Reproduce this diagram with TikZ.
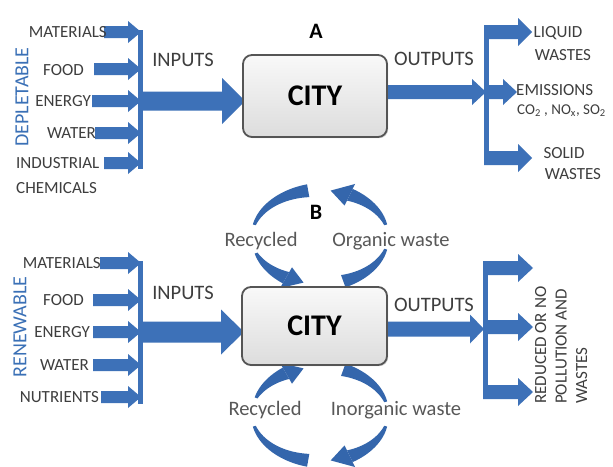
\documentclass[tikz,border=0pt]{standalone}
\usepackage{fontspec}
\setmainfont{Carlito}
\usetikzlibrary{shadows}

\definecolor{flowblue}{RGB}{61,113,184}
\definecolor{loopblue}{RGB}{52,102,172}
\definecolor{labelgrey}{RGB}{62,62,62}
\definecolor{loopgrey}{RGB}{88,88,88}
\definecolor{sideblue}{RGB}{58,112,182}
\definecolor{boxedge}{RGB}{85,85,85}

% straight block arrow: x start, x tip, y centre, body height, head height, head length
\newcommand{\blockarrow}[6]{%
  \fill[flowblue] (#1,{#3-#4/2}) -- ({#2-#6},{#3-#4/2}) -- ({#2-#6},{#3-#5/2})
    -- (#2,#3) -- ({#2-#6},{#3+#5/2}) -- ({#2-#6},{#3+#4/2}) -- (#1,{#3+#4/2}) -- cycle;}

% tapered piece of an elliptic loop: cx, cy, rx, ry, from angle, to angle, width at from, width at to
\newcommand{\looppiece}[8]{%
  \fill[loopblue]
    plot[domain=#5:#6, samples=40]
      ({#1+(#3+(#7+(#8-(#7))*(\x-(#5))/(#6-(#5)))/2)*cos(\x)},
       {#2-(#4+(#7+(#8-(#7))*(\x-(#5))/(#6-(#5)))/2)*sin(\x)})
    -- plot[domain=#6:#5, samples=40]
      ({#1+(#3-(#7+(#8-(#7))*(\x-(#5))/(#6-(#5)))/2)*cos(\x)},
       {#2-(#4-(#7+(#8-(#7))*(\x-(#5))/(#6-(#5)))/2)*sin(\x)})
    -- cycle;}

% arrow head on an elliptic loop: cx, cy, rx, ry, base angle, tip angle, half width
\newcommand{\loophead}[7]{%
  \fill[loopblue] ({#1+(#3+#7)*cos(#5)},{#2-(#4+#7)*sin(#5)})
    -- ({#1+#3*cos(#6)},{#2-#4*sin(#6)})
    -- ({#1+(#3-#7)*cos(#5)},{#2-(#4-#7)*sin(#5)}) -- cycle;}

\begin{document}
\begin{tikzpicture}[x=1pt,y=-1pt,
  inlab/.style={text=labelgrey, inner sep=0pt, font=\fontsize{17}{19}\selectfont},
  flowlab/.style={text=labelgrey, inner sep=0pt, font=\fontsize{20.5}{22}\selectfont},
  looplab/.style={text=loopgrey, inner sep=0pt, font=\fontsize{20.5}{22}\selectfont},
  sidelab/.style={text=sideblue, inner sep=0pt, rotate=90, font=\fontsize{20}{22}\selectfont},
  titlelab/.style={text=black, inner sep=0pt, font=\fontsize{22}{24}\selectfont\bfseries},
  citybox/.style={draw=boxedge, line width=1.8pt, rounded corners=9pt,
    top color=gray!5, bottom color=gray!27, text=black,
    font=\fontsize{30}{32}\selectfont\bfseries,
    drop shadow={opacity=0.35, shadow xshift=1.2pt, shadow yshift=-1.2pt}}
]
\useasboundingbox[fill=white] (0,0) rectangle (613,466);

% ================= part A : depletable inputs =================
\blockarrow{104}{141}{32}{12}{22}{13}
\blockarrow{94}{141}{69}{12}{22}{13}
\blockarrow{92}{141}{101}{12}{22}{13}
\blockarrow{95}{141}{133}{12}{22}{13}
\blockarrow{104}{141}{163}{12}{22}{13}
\fill[flowblue] (138,30) rectangle (143,169);
\blockarrow{143}{245}{101}{19}{46}{23}

% outputs of A
\blockarrow{387}{486}{92}{14}{26}{14}
\fill[flowblue] (484,25) rectangle (489,165);
\blockarrow{484}{532}{32}{14}{28}{14}
\blockarrow{489}{517}{92}{14}{26}{14}
\blockarrow{484}{532}{158}{14}{28}{14}

\node[citybox, minimum width=144pt, minimum height=82pt] (cityA) at (315,96) {CITY};
\node[titlelab] (titleA) at (316,31) {A};

\node[inlab, anchor=east] (matA) at (107,32) {MATERIALS};
\node[inlab, anchor=east] (foodA) at (84,70) {FOOD};
\node[inlab, anchor=east] (enerA) at (91,101) {ENERGY};
\node[inlab, anchor=east] (watA) at (96,133) {WATER};
\node[inlab, anchor=west] (indA) at (16,163) {INDUSTRIAL};
\node[inlab, anchor=west] (chemA) at (16,188) {CHEMICALS};
\node[sidelab] (deplA) at (22,97) {DEPLETABLE};
\node[flowlab] (inA) at (183,60) {INPUTS};
\node[flowlab] (outA) at (434,59) {OUTPUTS};

\node[inlab] (liqA) at (558,33) {LIQUID};
\node[inlab] (liqwA) at (563,55) {WASTES};
\node[inlab, anchor=west] (emiA) at (516,90) {EMISSIONS};
\node[inlab, anchor=west, font=\fontsize{15}{17}\selectfont] (gasA) at (517,111)
      {CO\textsubscript{2} , NO\textsubscript{x}, SO\textsubscript{2}};
\node[inlab] (solA) at (564,153) {SOLID};
\node[inlab] (solwA) at (573,174) {WASTES};

% ================= part B : renewable inputs =================
\blockarrow{100}{141}{263}{12}{22}{13}
\blockarrow{93}{141}{300}{12}{22}{13}
\blockarrow{93}{141}{332}{12}{22}{13}
\blockarrow{93}{141}{365}{12}{22}{13}
\blockarrow{101}{141}{397}{12}{22}{13}
\fill[flowblue] (138,261) rectangle (143,404);
\blockarrow{143}{244}{332}{21}{45}{23}

% outputs of B
\blockarrow{387}{484}{329}{15}{29}{14}
\fill[flowblue] (483,261) rectangle (488,399);
\blockarrow{483}{533}{268}{14}{28}{15}
\blockarrow{488}{533}{327}{14}{28}{15}
\blockarrow{483}{533}{392}{14}{28}{15}

% upper loop: organic waste back as recycled
\looppiece{320}{237}{68}{47}{-70}{-15}{13}{3}
\looppiece{320}{237}{68}{47}{15}{64}{3}{13}
\loophead{320}{237}{68}{47}{64}{81}{12}
\looppiece{320}{237}{68}{47}{100}{165}{13}{3}
\looppiece{320}{237}{68}{47}{200}{240}{3}{13}
\loophead{320}{237}{68}{47}{240}{256}{12}

% lower loop: inorganic waste back as recycled
\looppiece{320}{414}{68}{47}{70}{15}{13}{3}
\looppiece{320}{414}{68}{47}{-15}{-64}{3}{13}
\loophead{320}{414}{68}{47}{-64}{-81}{12}
\looppiece{320}{414}{68}{47}{-100}{-165}{13}{3}
\looppiece{320}{414}{68}{47}{-200}{-240}{3}{13}
\loophead{320}{414}{68}{47}{-240}{-256}{12}

\node[citybox, minimum width=145pt, minimum height=78pt] (cityB) at (314.5,326) {CITY};
\node[titlelab] (titleB) at (316,212) {B};

\node[looplab] (recB1) at (261,241) {Recycled};
\node[looplab] (orgB) at (391,241) {Organic waste};
\node[looplab] (recB2) at (265,410) {Recycled};
\node[looplab] (inorgB) at (396,410) {Inorganic waste};

\node[inlab, anchor=east] (matB) at (101,263) {MATERIALS};
\node[inlab, anchor=east] (foodB) at (84,300) {FOOD};
\node[inlab, anchor=east] (enerB) at (90,332) {ENERGY};
\node[inlab, anchor=east] (watB) at (89,365) {WATER};
\node[inlab, anchor=east] (nutB) at (99,397) {NUTRIENTS};
\node[sidelab] (renB) at (20,327) {RENEWABLE};
\node[flowlab] (inB) at (183,293) {INPUTS};
\node[flowlab] (outB) at (434,305) {OUTPUTS};

\node[inlab, rotate=90, anchor=north west, align=left,
      font=\fontsize{17}{20.5}\selectfont] (redB) at (535,404)
      {REDUCED OR NO\\POLLUTION AND\\WASTES};
\end{tikzpicture}
\end{document}
